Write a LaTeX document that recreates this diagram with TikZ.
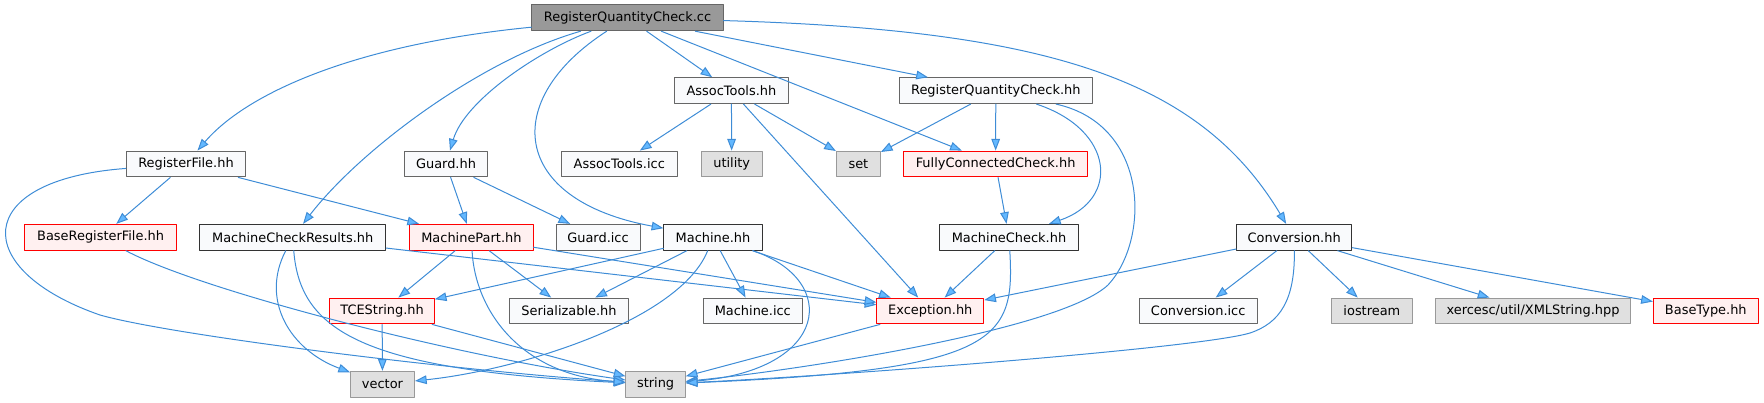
\documentclass[tikz,border=0pt]{standalone}
\usepackage{fontspec}
\setmainfont{DejaVu Sans}
\usetikzlibrary{arrows.meta}
\definecolor{nodefill}{HTML}{F9FAFC}
\definecolor{nodeline}{HTML}{666666}
\definecolor{darkline}{HTML}{333333}
\definecolor{rootfill}{HTML}{999999}
\definecolor{cutfill}{HTML}{FFF0F0}
\definecolor{cutline}{HTML}{FF0000}
\definecolor{sysfill}{HTML}{E0E0E0}
\definecolor{sysline}{HTML}{999999}
\definecolor{edgeline}{HTML}{3E8CD6}
\definecolor{edgetip}{HTML}{63B8FF}
\begin{document}
\begin{tikzpicture}[x=0.75pt,y=-0.75pt,line cap=round,line join=round,
  hfile/.style={draw=nodeline,fill=nodefill,line width=0.75pt,minimum height=19.4pt,inner sep=0pt,font=\fontsize{9.7}{11}\selectfont},
  dfile/.style={hfile,draw=darkline},
  rootfile/.style={hfile,fill=rootfill},
  cutfile/.style={hfile,draw=cutline,fill=cutfill},
  sysfile/.style={hfile,draw=sysline,fill=sysfill},
  dep/.style={draw=edgeline,line width=0.75pt,-{Triangle[length=8.8pt,width=6.5pt,fill=edgetip]}}]
  \useasboundingbox (0,0) rectangle (1764,403);
  \node[rootfile,minimum width=143.3pt] (cc) at (627.5,17.8) {RegisterQuantityCheck.cc};
  \node[hfile,minimum width=85.3pt] (at) at (731.4,90.7) {AssocTools.hh};
  \node[hfile,minimum width=144.4pt] (rqch) at (995.8,90.7) {RegisterQuantityCheck.hh};
  \node[hfile,minimum width=89.6pt] (rf) at (186,164) {RegisterFile.hh};
  \node[hfile,minimum width=61.7pt] (gh) at (446,164) {Guard.hh};
  \node[hfile,minimum width=86.9pt] (aticc) at (619.3,164) {AssocTools.icc};
  \node[sysfile,minimum width=45.6pt] (util) at (731.7,164) {utility};
  \node[sysfile,minimum width=33pt] (set) at (858.4,164) {set};
  \node[cutfile,minimum width=137.8pt] (fcc) at (995.6,164) {FullyConnectedCheck.hh};
  \node[cutfile,minimum width=113.6pt] (brf) at (100.6,237.3) {BaseRegisterFile.hh};
  \node[dfile,minimum width=139.5pt] (mcr) at (292.7,237.3) {MachineCheckResults.hh};
  \node[cutfile,minimum width=92.4pt] (mp) at (471.4,237.3) {MachinePart.hh};
  \node[hfile,minimum width=63pt] (gicc) at (598,237.3) {Guard.icc};
  \node[dfile,minimum width=73.7pt] (mh) at (713,237.3) {Machine.hh};
  \node[dfile,minimum width=103.9pt] (mch) at (1009,237.3) {MachineCheck.hh};
  \node[dfile,minimum width=86.3pt] (conv) at (1294.2,237.3) {Conversion.hh};
  \node[cutfile,minimum width=78.3pt] (tce) at (382.1,311) {TCEString.hh};
  \node[hfile,minimum width=89.5pt] (ser) at (569,311) {Serializable.hh};
  \node[hfile,minimum width=74.3pt] (micc) at (752.8,311) {Machine.icc};
  \node[cutfile,minimum width=80.1pt] (exc) at (930.3,311) {Exception.hh};
  \node[hfile,minimum width=88.2pt] (cicc) at (1198.2,311) {Conversion.icc};
  \node[sysfile,minimum width=60.7pt] (ios) at (1371.9,311) {iostream};
  \node[sysfile,minimum width=146.5pt] (xml) at (1533,311) {xercesc/util/XMLString.hpp};
  \node[cutfile,minimum width=78.6pt] (bt) at (1705.8,311) {BaseType.hh};
  \node[sysfile,minimum width=47.9pt] (vec) at (382.5,384.3) {vector};
  \node[sysfile,minimum width=44.5pt] (str) at (655.6,384.3) {string};
  \draw[dep] (cc) .. controls (350,45) and (245,95) .. (rf);
  \draw[dep] (cc) .. controls (480,60) and (360,150) .. (mcr);
  \draw[dep] (cc) .. controls (540,50) and (465,100) .. (gh);
  \draw[dep] (cc) .. controls (500,100) and (510,200) .. (mh);
  \draw[dep] (cc) -- (at);
  \draw[dep] (cc) -- (fcc);
  \draw[dep] (cc) -- (rqch);
  \draw[dep] (cc) .. controls (1050,30) and (1200,80) .. (conv);
  \draw[dep] (at) -- (aticc);
  \draw[dep] (at) -- (util);
  \draw[dep] (at) -- (set);
  \draw[dep] (at) -- (exc);
  \draw[dep] (rqch) -- (set);
  \draw[dep] (rqch) -- (fcc);
  \draw[dep] (rqch) .. controls (1115,130) and (1120,200) .. (mch);
  \draw[dep] (rqch) .. controls (1150,125) and (1150,240) .. (1108,285) .. controls (1060,330) and (800,370) .. (str);
  \draw[dep] (fcc) -- (mch);
  \draw[dep] (rf) -- (brf);
  \draw[dep] (rf) -- (mp);
  \draw[dep] (rf) .. controls (-30,180) and (-30,270) .. (100,315) .. controls (170,335) and (450,370) .. (str);
  \draw[dep] (gh) -- (mp);
  \draw[dep] (gh) -- (gicc);
  \draw[dep] (brf) .. controls (200,290) and (450,355) .. (str);
  \draw[dep] (mcr) .. controls (260,300) and (290,350) .. (vec);
  \draw[dep] (mcr) .. controls (300,330) and (360,370) .. (str);
  \draw[dep] (mcr) -- (exc);
  \draw[dep] (mp) -- (exc);
  \draw[dep] (mp) -- (tce);
  \draw[dep] (mp) -- (ser);
  \draw[dep] (mp) .. controls (475,310) and (520,375) .. (str);
  \draw[dep] (mh) -- (tce);
  \draw[dep] (mh) -- (ser);
  \draw[dep] (mh) -- (micc);
  \draw[dep] (mh) -- (exc);
  \draw[dep] (mh) .. controls (680,320) and (520,370) .. (vec);
  \draw[dep] (mh) .. controls (840,280) and (830,370) .. (str);
  \draw[dep] (mch) -- (exc);
  \draw[dep] (mch) .. controls (1015,340) and (1000,370) .. (str);
  \draw[dep] (conv) -- (exc);
  \draw[dep] (conv) -- (cicc);
  \draw[dep] (conv) -- (ios);
  \draw[dep] (conv) -- (xml);
  \draw[dep] (conv) -- (bt);
  \draw[dep] (conv) .. controls (1295,300) and (1280,323) .. (1250,333) .. controls (1200,348) and (850,375) .. (str);
  \draw[dep] (tce) -- (vec);
  \draw[dep] (tce) -- (str);
  \draw[dep] (exc) -- (str);
\end{tikzpicture}
\end{document}
